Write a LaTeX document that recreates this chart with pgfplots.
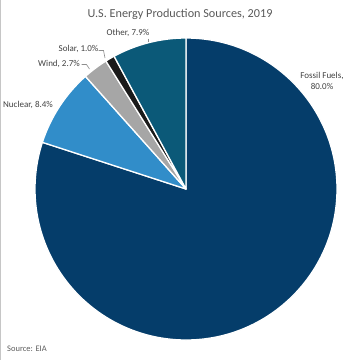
\documentclass[border=0pt]{standalone}
\usepackage{pgfplots}
\usepackage{pgfplotstable}
\pgfplotsset{compat=1.18}
\usepackage{fontspec}
\setmainfont{Carlito}
\definecolor{slice0}{RGB}{5,61,106}
\definecolor{slice1}{RGB}{49,141,201}
\definecolor{slice2}{RGB}{166,166,166}
\definecolor{slice3}{RGB}{26,26,26}
\definecolor{slice4}{RGB}{11,89,120}
\definecolor{titlegray}{RGB}{89,89,89}
\definecolor{labelgray}{RGB}{64,64,64}

\pgfplotstableread{
name    pct   cx   cy
Fossil  80.0  186  189
Nuclear 8.4   186  189
Wind    2.7   186  189
Solar   1.0   186  189
Other   7.9   186  189
}\slices
\pgfplotstablecreatecol[create col/expr accum={\pgfmathaccuma + \thisrow{pct}}{0}]{cum}\slices

\begin{document}
\begin{tikzpicture}
\begin{axis}[
  width=360bp, height=360bp, scale only axis,
  xmin=0, xmax=360, ymin=0, ymax=360, y dir=reverse,
  hide axis, clip=false,
]
\path[use as bounding box] (rel axis cs:0,0) rectangle (rel axis cs:1,1);
% pie wedges
\addplot[scatter, only marks, mark=*, mark size=0pt,
  mark options={draw=none, fill=none},
  visualization depends on={90-3.6*(\thisrow{cum}-\thisrow{pct}) \as \sa},
  visualization depends on={90-3.6*\thisrow{cum} \as \ea},
  visualization depends on={\coordindex \as \idx},
  scatter/@pre marker code/.code={%
    \pgfmathtruncatemacro\k{\idx}%
    \fill[slice\k, draw=white, line width=1.3bp, line join=round]
      (0,0) -- (\sa:151bp) arc[start angle=\sa, end angle=\ea, radius=151bp] -- cycle;
  },
  scatter/@post marker code/.code={},
] table[x=cx, y=cy] {\slices};
% leader lines
\addplot[labelgray!60, line width=0.6bp] coordinates {(148.5,38.5) (148.5,43.5)};
\addplot[labelgray!60, line width=0.6bp] coordinates {(98.5,50.5) (103.5,50.5) (105,58)};
\addplot[labelgray!60, line width=0.6bp] coordinates {(81.5,64.5) (86.5,64.5) (89.5,69)};
% left border
\addplot[gray!45, line width=1.2bp] coordinates {(0.6,0) (0.6,360)};
% labels
\addplot[only marks, mark=none, point meta=explicit symbolic,
  nodes near coords, nodes near coords align={center},
  every node near coord/.append style={anchor=center, align=center,
    font=\fontsize{9bp}{10.5bp}\selectfont, text=labelgray, inner sep=0pt},
] coordinates {
  (128,33) [{Other, 7.9\%}]
  (78.5,48.5) [{Solar, 1.0\%}]
  (59,63.5) [{Wind, 2.7\%}]
  (28,105) [{Nuclear, 8.4\%}]
  (322,81) [{Fossil Fuels,\\80.0\%}]
};
\addplot[only marks, mark=none, point meta=explicit symbolic,
  nodes near coords, nodes near coords align={center},
  every node near coord/.append style={anchor=center,
    font=\fontsize{12.2bp}{14bp}\selectfont, text=titlegray, inner sep=0pt},
] coordinates {(180,14) [{U.S. Energy Production Sources, 2019}]};
\addplot[only marks, mark=none, point meta=explicit symbolic,
  nodes near coords, nodes near coords align={center},
  every node near coord/.append style={anchor=west,
    font=\fontsize{8.5bp}{10bp}\selectfont, text=labelgray!85, inner sep=0pt},
] coordinates {(7,349) [{Source: EIA}]};
\end{axis}
\end{tikzpicture}
\end{document}
